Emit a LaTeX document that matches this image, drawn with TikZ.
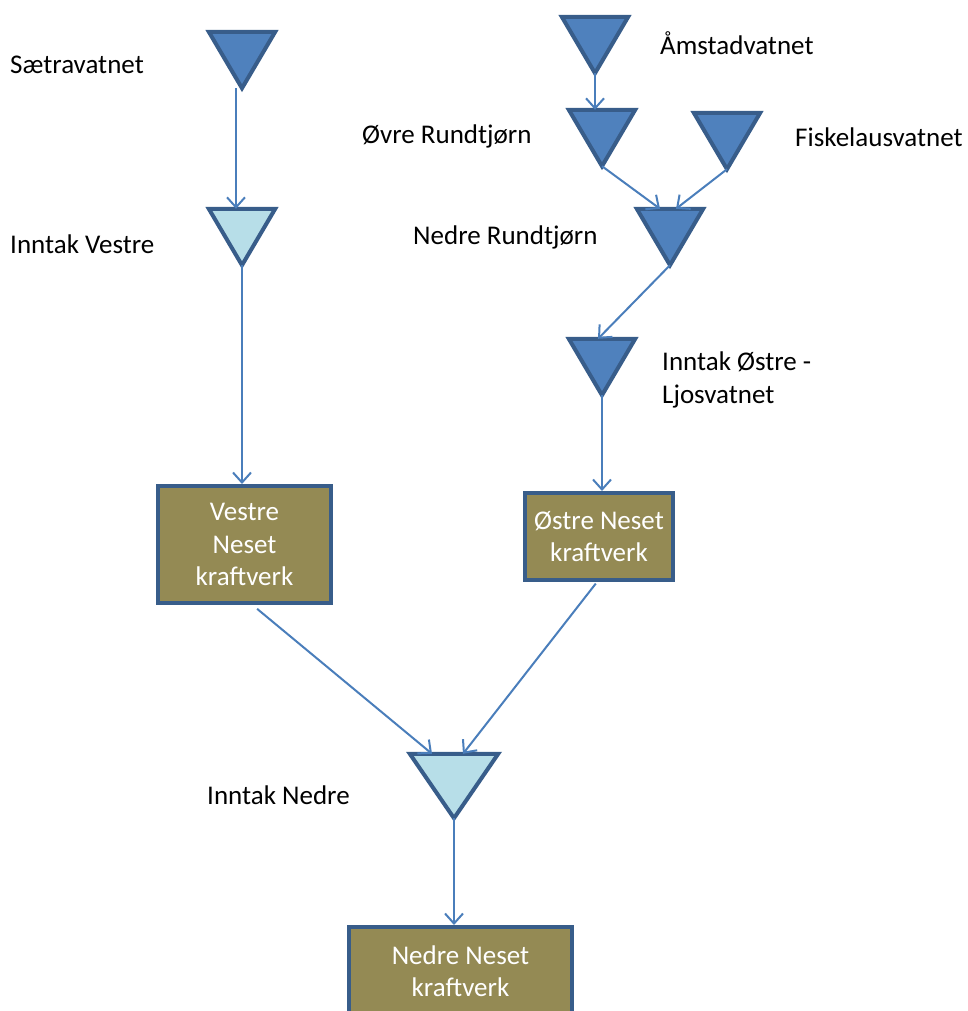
\documentclass[tikz,border=0pt]{standalone}
\usepackage{fontspec}
\setmainfont{Carlito}
\usepackage{tikz}
\usetikzlibrary{arrows.meta}

\definecolor{lakeblue}{HTML}{4F81BD}
\definecolor{lakeedge}{HTML}{385D8A}
\definecolor{intakeblue}{HTML}{B7DEE8}
\definecolor{plantolive}{HTML}{948A54}
\definecolor{flowblue}{HTML}{4A7EBB}

\tikzset{
  lake/.style={minimum width=66pt, minimum height=56pt, inner sep=0pt},
  bigintake/.style={minimum width=88pt, minimum height=64pt, inner sep=0pt},
  trishape/.style={draw=lakeedge, line width=4pt},
  plant/.style={draw=lakeedge, line width=4pt, fill=plantolive, text=white, align=center, inner sep=0pt},
  lakename/.style={anchor=west, inner sep=0pt, align=left},
  flow/.style={draw=flowblue, line width=2pt, -{Straight Barb[length=10pt,width=18pt]}},
}

\begin{document}
\begin{tikzpicture}[x=1pt, y=-1pt, font=\fontsize{27}{32.5}\selectfont]
        \useasboundingbox (0,0) rectangle (968,1011);

        %% Lakes and intakes
        \node [lake] (saetra) at (242,60) {};
        \node [lake] (vestreinn) at (242,237) {};
        \node [lake] (amstad) at (595,45) {};
        \node [lake] (ovre) at (602,138) {};
        \node [lake] (fiske) at (727,141) {};
        \node [lake] (nedrerund) at (670,237) {};
        \node [lake] (ostreinn) at (602,367) {};
        \node [bigintake] (nedreinn) at (454,786) {};

        %% Triangles
        \foreach \n/\c in {saetra/lakeblue, vestreinn/intakeblue, amstad/lakeblue, ovre/lakeblue,
                           fiske/lakeblue, nedrerund/lakeblue, ostreinn/lakeblue, nedreinn/intakeblue}
          \draw [trishape, fill=\c] (\n.north west) -- (\n.north east) -- (\n.south) -- cycle;

        %% Power plants
        \node (vestreplant) [plant, minimum width=173pt, minimum height=117pt] at (244.5,544.5) {Vestre\\Neset\\kraftverk};
        \node (ostreplant) [plant, minimum width=148pt, minimum height=87pt] at (599,536.5) {Østre Neset\\kraftverk};
        \node (nedreplant) [plant, minimum width=223pt, minimum height=88pt] at (460.5,971) {Nedre Neset\\kraftverk};

        %% Names
        \node (saetraname) [lakename] at (10,65) {Sætravatnet};
        \node (vestreinnname) [lakename] at (10,244) {Inntak Vestre};
        \node (amstadname) [lakename] at (660,43) {Åmstadvatnet};
        \node (ovrename) [lakename] at (362,136) {Øvre Rundtjørn};
        \node (fiskename) [lakename] at (795,137) {Fiskelausvatnet};
        \node (nedrerundname) [lakename] at (413,237) {Nedre Rundtjørn};
        \node (ostreinnname) [lakename] at (662,380) {Inntak Østre -\\Ljosvatnet};
        \node (nedreinnname) [lakename] at (207,795) {Inntak Nedre};

        %% Water ways
        \draw [flow] ([xshift=-6pt]saetra.south) -- ([xshift=-6pt]vestreinn.north);
        \draw [flow] (vestreinn.south) -- (vestreinn.south |- vestreplant.north);
        \draw [flow] (amstad.south) -- (amstad.south |- ovre.north);
        \draw [flow] (ovre.south) -- ([xshift=-10pt]nedrerund.north);
        \draw [flow] (fiske.south) -- ([xshift=6pt]nedrerund.north);
        \draw [flow] (nedrerund.south) -- ([xshift=-4pt]ostreinn.north);
        \draw [flow] (ostreinn.south) -- (ostreinn.south |- ostreplant.north);
        \draw [flow, shorten <=6pt] ([xshift=8pt]vestreplant.south) -- ([xshift=-22pt]nedreinn.north);
        \draw [flow, shorten <=2pt] ([xshift=-2pt]ostreplant.south) -- ([xshift=9pt]nedreinn.north);
        \draw [flow] (nedreinn.south) -- (nedreinn.south |- nedreplant.north);

\end{tikzpicture}
\end{document}
